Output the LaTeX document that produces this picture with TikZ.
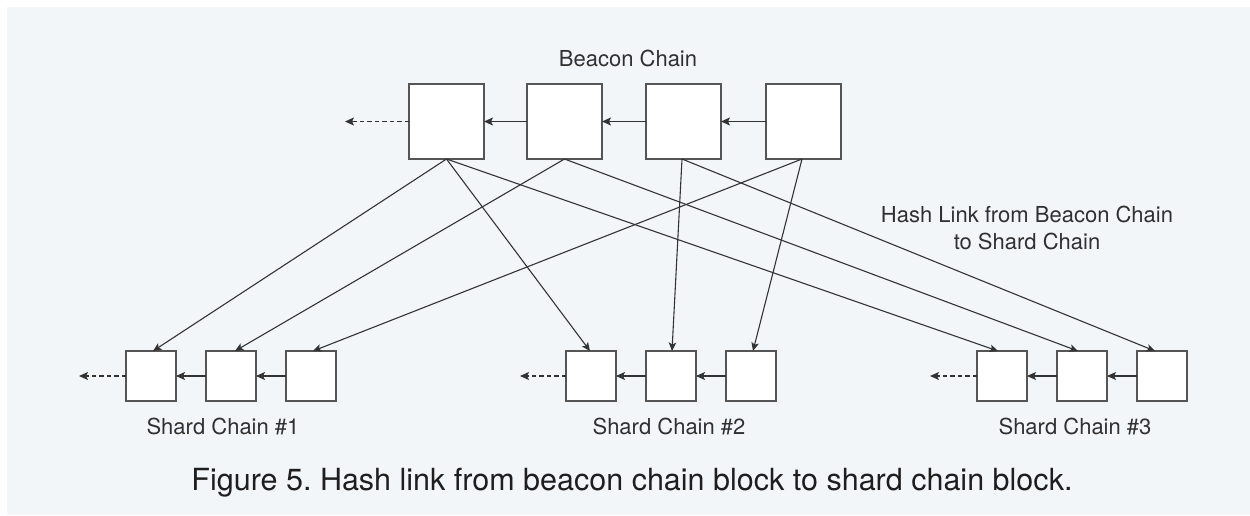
\documentclass[tikz,border=0pt]{standalone}
\usepackage{fontspec}
\setmainfont{TeX Gyre Heros}
\usetikzlibrary{arrows.meta,calc}
\definecolor{bgc}{HTML}{F3F6F9}
\definecolor{boxc}{HTML}{555555}
\definecolor{linec}{HTML}{333333}
\definecolor{txtc}{HTML}{303030}
\definecolor{capc}{HTML}{1E1E1E}
\tikzset{
  bblock/.style={draw=boxc, line width=1.4pt, fill=white, minimum size=75pt, inner sep=0pt, outer sep=0pt},
  sblock/.style={draw=boxc, line width=1.4pt, fill=white, minimum size=50pt, inner sep=0pt, outer sep=0pt},
  chainarrow/.style={draw=linec, line width=1.3pt, -{Stealth[length=9pt,width=8pt,inset=2pt]}},
  linkarrow/.style={draw=linec, line width=1.1pt, -{Stealth[length=8.5pt,width=7.5pt,inset=2pt]}},
  prevarrow/.style={draw=linec, line width=1.3pt, dash pattern=on 4.5pt off 3pt, -{Stealth[length=9pt,width=8pt,inset=2pt]}},
  lbl/.style={text=txtc, font=\fontsize{22}{26}\selectfont, inner sep=0pt, anchor=base},
  caplbl/.style={text=capc, font=\fontsize{30.5}{36}\selectfont, inner sep=0pt, anchor=base}
}
\begin{document}
\frenchspacing
\begin{tikzpicture}[x=1pt,y=-1pt]
\useasboundingbox (0,0) rectangle (1250,515);
\fill[white] (0,0) rectangle (1250,515);
\fill[bgc] (7,7) rectangle (1250,515);

% beacon chain
\node[bblock] (b1) at (446.5,121.5) {};
\node[bblock] (b2) at (564.5,121.5) {};
\node[bblock] (b3) at (683.5,121.5) {};
\node[bblock] (b4) at (803.5,121.5) {};
\coordinate (b0) at (345,121.5);
\node[lbl] (btitle) at (628,66) {Beacon Chain};

% shard chains
\node[sblock] (s1a) at (151,376) {};
\node[sblock] (s1b) at (231,376) {};
\node[sblock] (s1c) at (311,376) {};
\node[sblock] (s2a) at (591,376) {};
\node[sblock] (s2b) at (671,376) {};
\node[sblock] (s2c) at (751,376) {};
\node[sblock] (s3a) at (1002,376) {};
\node[sblock] (s3b) at (1082,376) {};
\node[sblock] (s3c) at (1162,376) {};
\coordinate (s1z) at (79,376);
\coordinate (s2z) at (520,376);
\coordinate (s3z) at (930,376);

\node[lbl] (s1t) at (223,434) {Shard Chain \#1};
\node[lbl] (s2t) at (669,434) {Shard Chain \#2};
\node[lbl] (s3t) at (1075,434) {Shard Chain \#3};

\node[lbl] (hash1) at (1027,222) {Hash Link from Beacon Chain};
\node[lbl] (hash2) at (1027,249) {to Shard Chain};

\node[caplbl] (cap) at (632,490) {Figure 5. Hash link from beacon chain block to shard chain block.};

% chain arrows
\draw[chainarrow] (b4.west) -- (b3.east);
\draw[chainarrow] (b3.west) -- (b2.east);
\draw[chainarrow] (b2.west) -- (b1.east);
\draw[prevarrow] (b1.west) -- (b0);

\draw[chainarrow] (s1c.west) -- (s1b.east);
\draw[chainarrow] (s1b.west) -- (s1a.east);
\draw[prevarrow] (s1a.west) -- (s1z);
\draw[chainarrow] (s2c.west) -- (s2b.east);
\draw[chainarrow] (s2b.west) -- (s2a.east);
\draw[prevarrow] (s2a.west) -- (s2z);
\draw[chainarrow] (s3c.west) -- (s3b.east);
\draw[chainarrow] (s3b.west) -- (s3a.east);
\draw[prevarrow] (s3a.west) -- (s3z);

% hash links
\draw[linkarrow] (b1.south) -- ([xshift=2pt]s1a.north);
\draw[linkarrow] (b1.south) -- ([xshift=-1pt]s2a.north);
\draw[linkarrow] (b1.south) -- ([xshift=-4pt]s3a.north);
\draw[linkarrow] (b2.south) -- ([xshift=4pt]s1b.north);
\draw[linkarrow] (b2.south) -- ([xshift=-4pt]s3b.north);
\draw[linkarrow] ([xshift=-1.5pt]b3.south) -- ([xshift=1pt]s2b.north);
\draw[linkarrow] ([xshift=-1.5pt]b3.south) -- ([xshift=-7pt]s3c.north);
\draw[linkarrow] ([xshift=-1.5pt]b4.south) -- ([xshift=2pt]s1c.north);
\draw[linkarrow] ([xshift=-1.5pt]b4.south) -- ([xshift=2pt]s2c.north);
\end{tikzpicture}
\end{document}
